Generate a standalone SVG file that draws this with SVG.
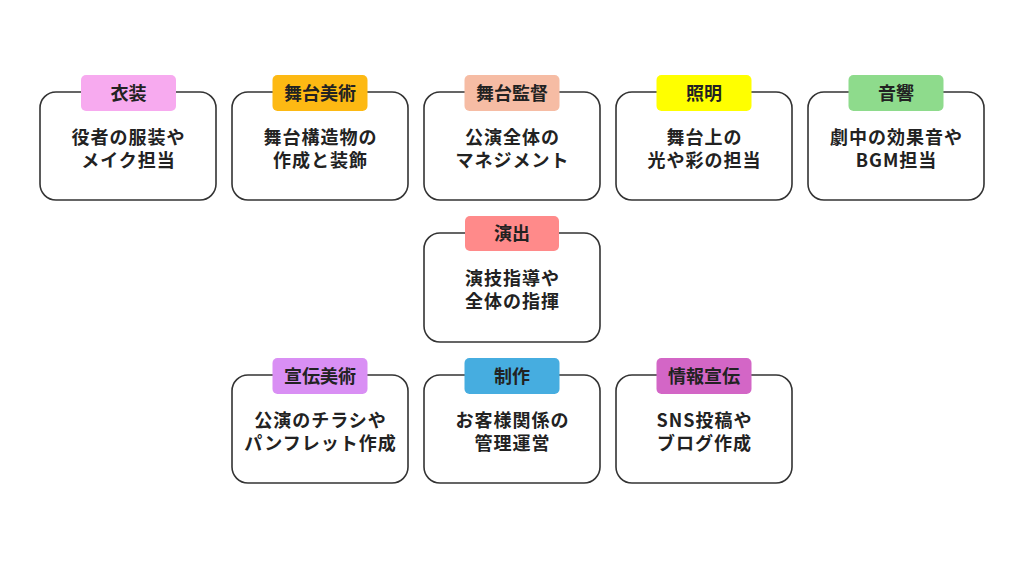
<svg xmlns="http://www.w3.org/2000/svg" width="1024" height="576" viewBox="0 0 1024 576">
<style>
.box{fill:#fff;stroke:#333;stroke-width:1.6}
.tag{stroke:none}
.t{font-family:"Noto Sans CJK JP","Noto Sans",sans-serif;font-weight:700;fill:#222;text-anchor:middle}
.tt{font-size:18px}
.bt{font-size:18px;letter-spacing:1px}
</style>
<rect width="1024" height="576" fill="#fff"/>
<g id="connectors"></g>
<g id="n-isho">
<rect class="box" x="40" y="92" width="176" height="108" rx="16"/>
<rect class="tag" x="81" y="75" width="95" height="36" rx="5" fill="#F7AAEF"/>
<text class="t tt" x="128.5" y="99.5">衣装</text>
<text class="t bt" x="128.5" y="144">役者の服装や</text>
<text class="t bt" x="128.5" y="167">メイク担当</text>
</g>
<g id="n-butai-bijutsu">
<rect class="box" x="232" y="92" width="176" height="108" rx="16"/>
<rect class="tag" x="272.5" y="75" width="95" height="36" rx="5" fill="#FDB913"/>
<text class="t tt" x="320" y="99.5">舞台美術</text>
<text class="t bt" x="320.5" y="144">舞台構造物の</text>
<text class="t bt" x="320.5" y="167">作成と装飾</text>
</g>
<g id="n-butai-kantoku">
<rect class="box" x="424" y="92" width="176" height="108" rx="16"/>
<rect class="tag" x="464.5" y="75" width="95" height="36" rx="5" fill="#F6BCA4"/>
<text class="t tt" x="512" y="99.5">舞台監督</text>
<text class="t bt" x="512.5" y="144">公演全体の</text>
<text class="t bt" x="512.5" y="167">マネジメント</text>
</g>
<g id="n-shomei">
<rect class="box" x="616" y="92" width="176" height="108" rx="16"/>
<rect class="tag" x="656.5" y="75" width="95" height="36" rx="5" fill="#FFFF00"/>
<text class="t tt" x="704" y="99.5">照明</text>
<text class="t bt" x="704.5" y="144">舞台上の</text>
<text class="t bt" x="704.5" y="167">光や彩の担当</text>
</g>
<g id="n-onkyo">
<rect class="box" x="808" y="92" width="176" height="108" rx="16"/>
<rect class="tag" x="848.5" y="75" width="95" height="36" rx="5" fill="#8EDB8C"/>
<text class="t tt" x="896" y="99.5">音響</text>
<text class="t bt" x="896.5" y="144">劇中の効果音や</text>
<text class="t bt" x="896.5" y="167">BGM担当</text>
</g>
<g id="n-enshutsu">
<rect class="box" x="424" y="233" width="176" height="109" rx="16"/>
<rect class="tag" x="465" y="216" width="94" height="35" rx="5" fill="#FF8A8A"/>
<text class="t tt" x="512" y="240">演出</text>
<text class="t bt" x="512.5" y="285">演技指導や</text>
<text class="t bt" x="512.5" y="308">全体の指揮</text>
</g>
<g id="n-senden-bijutsu">
<rect class="box" x="232" y="375" width="176" height="108" rx="16"/>
<rect class="tag" x="272.5" y="358" width="95" height="36" rx="5" fill="#D98FF4"/>
<text class="t tt" x="320" y="382.5">宣伝美術</text>
<text class="t bt" x="320.5" y="427">公演のチラシや</text>
<text class="t bt" x="320.5" y="450">パンフレット作成</text>
</g>
<g id="n-seisaku">
<rect class="box" x="424" y="375" width="176" height="108" rx="16"/>
<rect class="tag" x="464.5" y="358" width="95" height="36" rx="5" fill="#46ADE0"/>
<text class="t tt" x="512" y="382.5">制作</text>
<text class="t bt" x="512.5" y="427">お客様関係の</text>
<text class="t bt" x="512.5" y="450">管理運営</text>
</g>
<g id="n-joho-senden">
<rect class="box" x="616" y="375" width="176" height="108" rx="16"/>
<rect class="tag" x="656.5" y="358" width="95" height="36" rx="5" fill="#D366C6"/>
<text class="t tt" x="704" y="382.5">情報宣伝</text>
<text class="t bt" x="704.5" y="427">SNS投稿や</text>
<text class="t bt" x="704.5" y="450">ブログ作成</text>
</g>
</svg>
